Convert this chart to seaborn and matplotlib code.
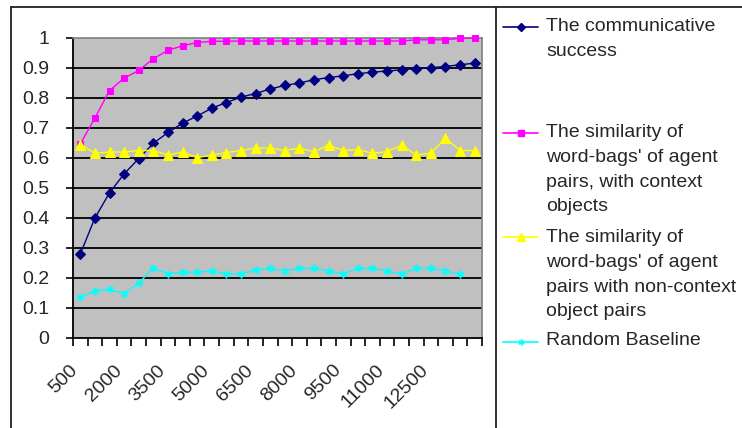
import numpy as np
import matplotlib
matplotlib.use('Agg')
import matplotlib.pyplot as plt
import matplotlib.transforms as mtransforms
from matplotlib.lines import Line2D
import seaborn as sns

# Data
ITERATIONS = [500, 1000, 1500, 2000, 2500, 3000, 3500, 4000, 4500, 5000,
              5500, 6000, 6500, 7000, 7500, 8000, 8500, 9000, 9500, 10000,
              10500, 11000, 11500, 12000, 12500, 13000, 13500, 14000]
COMM_SUCCESS = [0.28, 0.40, 0.484, 0.547, 0.598, 0.649, 0.685, 0.716, 0.740, 0.766,
                0.785, 0.803, 0.815, 0.830, 0.842, 0.850, 0.861, 0.868, 0.874, 0.881,
                0.886, 0.890, 0.894, 0.898, 0.901, 0.905, 0.911, 0.916]
SIM_CONTEXT = [0.647, 0.733, 0.825, 0.866, 0.892, 0.931, 0.959, 0.974, 0.985, 0.989,
               0.989, 0.99, 0.99, 0.99, 0.99, 0.99, 0.99, 0.99, 0.99, 0.99,
               0.99, 0.99, 0.99, 0.994, 0.994, 0.994, 0.999, 1.0]
SIM_NONCONTEXT = [0.645, 0.616, 0.62, 0.62, 0.625, 0.625, 0.61, 0.62, 0.601, 0.61,
                  0.618, 0.625, 0.633, 0.633, 0.625, 0.633, 0.621, 0.643, 0.625, 0.628,
                  0.616, 0.621, 0.643, 0.61, 0.616, 0.666, 0.625, 0.625]
RANDOM_BASELINE = [0.137, 0.157, 0.162, 0.148, 0.184, 0.232, 0.215, 0.219, 0.219, 0.224,
                   0.213, 0.214, 0.226, 0.232, 0.224, 0.232, 0.232, 0.224, 0.213, 0.232,
                   0.232, 0.224, 0.213, 0.232, 0.232, 0.224, 0.213]
Y_TICKS = [0, 0.1, 0.2, 0.3, 0.4, 0.5, 0.6, 0.7, 0.8, 0.9, 1]
Y_TICK_LABELS = ['0', '0.1', '0.2', '0.3', '0.4', '0.5', '0.6', '0.7', '0.8', '0.9', '1']
LABELS = ["The communicative\nsuccess",
          "The similarity of\nword-bags' of agent\npairs, with context\nobjects",
          "The similarity of\nword-bags' of agent\npairs with non-context\nobject pairs",
          "Random Baseline"]

sns.set_style('white')
plt.rcParams['font.family'] = ['Liberation Sans', 'DejaVu Sans']

W, H = 742, 428
fig = plt.figure(figsize=(W / 100, H / 100), dpi=100)
ax = fig.add_axes([73 / W, 1 - 338 / H, (482 - 73) / W, (338 - 38) / H])
ax.set_facecolor('#c0c0c0')

series = [
    (COMM_SUCCESS, '#000080', 'D', 5.0, {}),
    (SIM_CONTEXT, '#ff00ff', 's', 5.0, {}),
    (SIM_NONCONTEXT, '#ffff00', '^', 6.5, {}),
    (RANDOM_BASELINE, '#00ffff', (6, 2, 0), 5.5, {'markeredgewidth': 1.0}),
]
for vals, color, marker, ms, extra in series:
    pos = np.arange(len(vals))
    sns.lineplot(x=pos, y=vals, ax=ax, color=color, marker=marker, markersize=ms,
                 markeredgecolor=color, markerfacecolor=color, linewidth=1.0,
                 clip_on=False, zorder=3, **extra)

# horizontal gridlines
for yv in Y_TICKS[1:-1]:
    ax.axhline(yv, color='black', linewidth=1.3, zorder=1)

n = len(ITERATIONS)
ax.set_xlim(-0.5, n - 0.5)
ax.set_ylim(0, 1)
ax.set_yticks(Y_TICKS)
ax.set_yticklabels(Y_TICK_LABELS, fontsize=14)
ax.tick_params(axis='y', direction='out', length=5, width=1.2, color='black', pad=12, left=True)

# category boundary ticks (no labels) and labels every 3rd category
ax.set_xticks(np.arange(n + 1) - 0.5)
ax.set_xticklabels([])
ax.tick_params(axis='x', which='major', direction='out', length=6, width=1.2, color='black', bottom=True)
lab_pos = list(range(0, n - 1, 3))
ax.set_xticks(lab_pos, minor=True)
ax.set_xticklabels([str(ITERATIONS[i]) for i in lab_pos], minor=True, fontsize=14,
                   rotation=45, ha='right', rotation_mode='anchor')
ax.tick_params(axis='x', which='minor', length=0, pad=17)
shift = mtransforms.ScaledTranslation(-11 / 100, 0, fig.dpi_scale_trans)
for lbl in ax.get_xticklabels(minor=True):
    lbl.set_transform(lbl.get_transform() + shift)

for side in ['top', 'right']:
    ax.spines[side].set_color('#808080')
    ax.spines[side].set_linewidth(1.2)
for side in ['left', 'bottom']:
    ax.spines[side].set_color('black')
    ax.spines[side].set_linewidth(1.3)

# outer frame lines
fig.add_artist(Line2D([11 / W, 1], [1 - 7 / H, 1 - 7 / H], color='#202020', linewidth=1.3))
fig.add_artist(Line2D([11 / W, 11 / W], [0, 1 - 7 / H], color='#202020', linewidth=1.3))
fig.add_artist(Line2D([496 / W, 496 / W], [0, 1 - 7 / H], color='#202020', linewidth=1.3))

# legend
handle_y = [27, 133, 237, 342]
text_top = [18, 124, 229, 332]
for (vals, color, marker, ms, extra), hy, ty, lab in zip(series, handle_y, text_top, LABELS):
    fig.add_artist(Line2D([503 / W, 538 / W], [1 - hy / H] * 2, color=color, linewidth=1.2))
    fig.add_artist(Line2D([520.5 / W], [1 - hy / H], color=color, marker=marker,
                          markersize=ms * 0.8, markeredgecolor=color, markerfacecolor=color,
                          **extra))
    fig.text(546 / W, 1 - ty / H, lab, fontsize=14, va='top', ha='left', linespacing=1.6)

fig.savefig('out.png', dpi=100)
